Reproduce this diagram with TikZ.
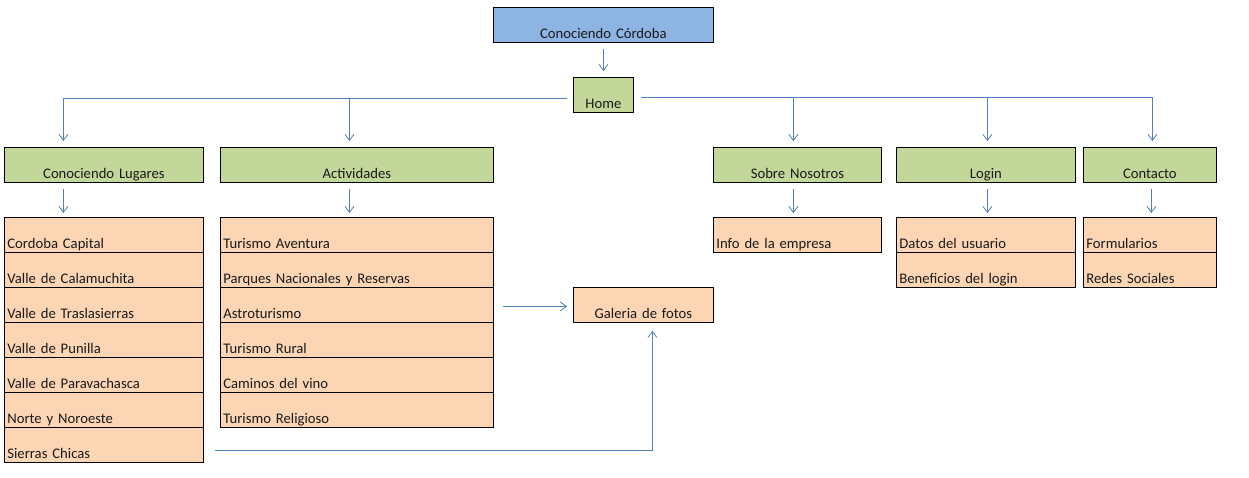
\documentclass[tikz,border=0pt]{standalone}
\usepackage{fontspec}
\setmainfont{Carlito}
\usetikzlibrary{arrows.meta}
\definecolor{topblue}{HTML}{8DB4E2}
\definecolor{greenf}{HTML}{C4D79B}
\definecolor{orangef}{HTML}{FCD5B4}
\definecolor{lineblue}{HTML}{4F81BD}
\definecolor{txt}{HTML}{1A1A1A}
\begin{document}
\begin{tikzpicture}[x=1pt,y=-1pt,
  font=\fontsize{14.67}{17}\selectfont,
  box/.style={draw=black, line width=0.8pt, anchor=north west, inner xsep=3pt, inner ysep=0pt,
    text height=31pt, text depth=4pt, minimum height=35pt, text=txt},
  cbox/.style={box, align=center},
  lbox/.style={box, align=left},
  conn/.style={draw=lineblue, line width=0.8pt, -{Straight Barb[length=6pt,width=9pt]}, shorten >=6pt},
  ]
\useasboundingbox (0,0) rectangle (1249,477);
% top
\node[cbox, fill=topblue, text width=214pt] (top) at (493,7) {Conociendo Córdoba};
\node[cbox, fill=greenf, text width=54pt] (home) at (573,77) {Home};
% green sections
\node[cbox, fill=greenf, text width=193pt] (cl) at (4,147) {Conociendo Lugares};
\node[cbox, fill=greenf, text width=267pt] (act) at (220,147) {Actividades};
\node[cbox, fill=greenf, text width=162pt] (sn) at (713,147) {Sobre Nosotros};
\node[cbox, fill=greenf, text width=173pt] (log) at (896,147) {Login};
\node[cbox, fill=greenf, text width=127pt] (con) at (1083,147) {Contacto};
% lists
\node[lbox, fill=orangef, text width=193pt] (cl1) at (4,217) {Cordoba Capital};
\node[lbox, fill=orangef, text width=193pt] (cl2) at (4,252) {Valle de Calamuchita};
\node[lbox, fill=orangef, text width=193pt] (cl3) at (4,287) {Valle de Traslasierras};
\node[lbox, fill=orangef, text width=193pt] (cl4) at (4,322) {Valle de Punilla};
\node[lbox, fill=orangef, text width=193pt] (cl5) at (4,357) {Valle de Paravachasca};
\node[lbox, fill=orangef, text width=193pt] (cl6) at (4,392) {Norte y Noroeste};
\node[lbox, fill=orangef, text width=193pt] (cl7) at (4,427) {Sierras Chicas};
\node[lbox, fill=orangef, text width=267pt] (ac1) at (220,217) {Turismo Aventura};
\node[lbox, fill=orangef, text width=267pt] (ac2) at (220,252) {Parques Nacionales y Reservas};
\node[lbox, fill=orangef, text width=267pt] (ac3) at (220,287) {Astroturismo};
\node[lbox, fill=orangef, text width=267pt] (ac4) at (220,322) {Turismo Rural};
\node[lbox, fill=orangef, text width=267pt] (ac5) at (220,357) {Caminos del vino};
\node[lbox, fill=orangef, text width=267pt] (ac6) at (220,392) {Turismo Religioso};
\node[lbox, fill=orangef, text width=162pt] (sn1) at (713,217) {Info de la empresa};
\node[lbox, fill=orangef, text width=173pt] (lg1) at (896,217) {Datos del usuario};
\node[lbox, fill=orangef, text width=173pt] (lg2) at (896,252) {Beneficios del login};
\node[lbox, fill=orangef, text width=127pt] (co1) at (1083,217) {Formularios};
\node[lbox, fill=orangef, text width=127pt] (co2) at (1083,252) {Redes Sociales};
\node[cbox, fill=orangef, text width=134pt] (gal) at (573,287) {Galeria de fotos};
% connectors
\coordinate (hl) at ([yshift=-3.5pt]home.west);
\coordinate (hr) at ([yshift=-2.5pt]home.east);
\coordinate (clN) at ([xshift=-40.5pt]cl.north);
\coordinate (actN) at ([xshift=-7.5pt]act.north);
\coordinate (snN) at ([xshift=-4pt]sn.north);
\coordinate (logN) at ([xshift=1.5pt]log.north);
\coordinate (conN) at ([xshift=2.5pt]con.north);
\draw[conn, shorten <=6pt] (top.south) -- (home.north);
\draw[conn, shorten <=6pt] (hl) -| (clN);
\draw[conn] (actN |- hl) -- (actN);
\draw[conn, shorten <=7pt] (hr) -| (conN);
\draw[conn] (snN |- hr) -- (snN);
\draw[conn] (logN |- hr) -- (logN);
\draw[conn, shorten <=6pt, shorten >=4pt] (cl.south -| clN) -- (cl1.north -| clN);
\draw[conn, shorten <=6pt, shorten >=4pt] (act.south -| actN) -- (ac1.north -| actN);
\draw[conn, shorten <=6pt, shorten >=4pt] (sn.south -| snN) -- (sn1.north -| snN);
\draw[conn, shorten <=6pt, shorten >=4pt] (log.south -| logN) -- (lg1.north -| logN);
\draw[conn, shorten <=6pt, shorten >=4pt] ([xshift=1.5pt]con.south) -- ([xshift=1.5pt]co1.north);
\draw[conn, shorten <=9pt] ([yshift=-1.5pt]ac3.east) -- ([yshift=-1.5pt]gal.west);
\draw[conn, shorten <=11pt, shorten >=8pt] ([yshift=-5.5pt]cl7.east) -| ([xshift=9pt]gal.south);
\end{tikzpicture}
\end{document}
